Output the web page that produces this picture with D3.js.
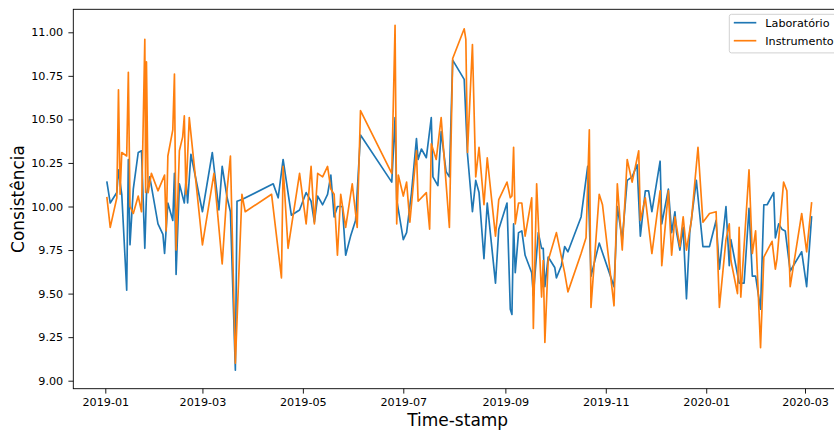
<!DOCTYPE html>
<html>
<head>
<meta charset="utf-8">
<script src="https://cdn.jsdelivr.net/npm/d3@7"></script>
<style>
  body { margin: 0; background: #fff; }
  text { font-family: "DejaVu Sans", sans-serif; fill: #000; }
</style>
</head>
<body>
<svg id="chart" width="834" height="432"></svg>
<script>
// Laboratory measurements
const labDates = [
  "2019-01-02","2019-01-04","2019-01-08","2019-01-09","2019-01-11","2019-01-14","2019-01-15","2019-01-16",
  "2019-01-18","2019-01-21","2019-01-23","2019-01-25","2019-01-26","2019-01-28","2019-02-02","2019-02-05",
  "2019-02-06","2019-02-08","2019-02-11","2019-02-12","2019-02-13","2019-02-15","2019-02-18","2019-02-19",
  "2019-02-20","2019-02-22","2019-03-01","2019-03-07","2019-03-11","2019-03-13","2019-03-16","2019-03-18",
  "2019-03-21","2019-03-22","2019-03-25","2019-04-13","2019-04-16","2019-04-19","2019-04-24","2019-04-29",
  "2019-05-03","2019-05-06","2019-05-08","2019-05-10","2019-05-13","2019-05-16","2019-05-18","2019-05-20",
  "2019-05-22","2019-05-25","2019-05-27","2019-05-30","2019-06-02","2019-06-05","2019-06-24","2019-06-26",
  "2019-06-27","2019-07-01","2019-07-03","2019-07-06","2019-07-09","2019-07-10","2019-07-12","2019-07-15",
  "2019-07-18","2019-07-19","2019-07-22","2019-07-24","2019-07-27","2019-07-29","2019-07-31","2019-08-07",
  "2019-08-09","2019-08-12","2019-08-14","2019-08-16","2019-08-19","2019-08-21","2019-08-26","2019-08-28",
  "2019-09-02","2019-09-04","2019-09-05","2019-09-06","2019-09-07","2019-09-09","2019-09-11","2019-09-13",
  "2019-09-17","2019-09-18","2019-09-21","2019-09-23","2019-09-24","2019-09-25","2019-09-27","2019-10-01",
  "2019-10-02","2019-10-05","2019-10-07","2019-10-09","2019-10-17","2019-10-21","2019-10-23","2019-10-28",
  "2019-11-06","2019-11-07","2019-11-08","2019-11-11","2019-11-14","2019-11-17","2019-11-20","2019-11-22",
  "2019-11-25","2019-11-27","2019-11-29","2019-12-04","2019-12-05","2019-12-09","2019-12-11","2019-12-13",
  "2019-12-14","2019-12-16","2019-12-18","2019-12-20","2019-12-22","2019-12-26","2019-12-30","2020-01-03",
  "2020-01-07","2020-01-09","2020-01-13","2020-01-15","2020-01-16","2020-01-21","2020-01-24","2020-01-27",
  "2020-01-29","2020-01-31","2020-02-03","2020-02-05","2020-02-07","2020-02-11","2020-02-12","2020-02-14",
  "2020-02-16","2020-02-18","2020-02-21","2020-02-28","2020-03-02","2020-03-05"
];
const labValues = [
  10.14,10.02,10.08,10.21,10.07,9.52,10.27,9.78,
  10.10,10.31,10.32,9.76,10.07,10.17,9.90,9.84,
  9.73,10.02,9.92,10.19,9.61,10.13,10.02,10.15,
  10.02,10.30,9.97,10.31,9.98,10.23,10.05,9.97,
  9.06,10.03,10.04,10.13,10.05,10.27,9.95,9.98,
  10.08,10.03,9.91,10.06,10.01,10.07,10.18,9.94,
  10.00,10.00,9.72,9.83,9.92,10.41,10.14,10.51,
  10.04,9.81,9.85,10.08,10.39,10.27,10.33,10.28,
  10.51,10.17,10.12,10.43,10.20,10.17,10.84,10.73,
  10.30,9.97,10.15,10.08,9.70,10.02,9.56,9.87,
  10.02,9.41,9.38,9.90,9.62,9.85,9.86,9.72,
  9.62,9.49,9.85,9.76,9.76,9.54,9.71,9.65,
  9.59,9.66,9.77,9.74,9.94,10.23,9.60,9.79,
  9.54,9.75,10.00,9.81,10.15,10.17,10.24,9.83,
  10.09,10.09,9.97,10.26,9.90,10.10,9.85,9.97,
  9.85,9.75,9.88,9.47,9.85,10.15,9.77,9.77,
  9.92,9.64,10.00,9.66,9.81,9.56,9.56,9.99,
  9.60,9.60,9.41,10.01,10.01,10.08,9.82,9.90,
  9.87,9.86,9.63,9.74,9.54,9.94
];

// Instrument measurements
const instDates = [
  "2019-01-02","2019-01-04","2019-01-08","2019-01-09","2019-01-10","2019-01-11","2019-01-14","2019-01-15",
  "2019-01-16","2019-01-18","2019-01-21","2019-01-23","2019-01-25","2019-01-25T12:00:00Z","2019-01-26","2019-01-27",
  "2019-01-29","2019-02-02","2019-02-06","2019-02-07","2019-02-08","2019-02-11","2019-02-12","2019-02-13",
  "2019-02-15","2019-02-17","2019-02-18","2019-02-19","2019-02-21","2019-03-01","2019-03-08","2019-03-13",
  "2019-03-16","2019-03-18","2019-03-21","2019-03-25","2019-03-27","2019-04-12","2019-04-18","2019-04-19",
  "2019-04-22","2019-04-29","2019-05-03","2019-05-06","2019-05-08","2019-05-10","2019-05-13","2019-05-16",
  "2019-05-18","2019-05-20","2019-05-22","2019-05-24","2019-05-27","2019-05-31","2019-06-03","2019-06-05",
  "2019-06-24","2019-06-26","2019-06-27","2019-06-28","2019-07-01","2019-07-03","2019-07-05","2019-07-09",
  "2019-07-10","2019-07-15","2019-07-17","2019-07-18","2019-07-21","2019-07-24","2019-07-29","2019-07-31",
  "2019-08-07","2019-08-08","2019-08-09","2019-08-12","2019-08-14","2019-08-16","2019-08-19","2019-08-21",
  "2019-08-26","2019-08-28","2019-09-02","2019-09-04","2019-09-05","2019-09-06","2019-09-07","2019-09-09",
  "2019-09-11","2019-09-13","2019-09-17","2019-09-18","2019-09-20","2019-09-23","2019-09-24","2019-09-25",
  "2019-09-27","2019-10-02","2019-10-07","2019-10-09","2019-10-17","2019-10-20","2019-10-22","2019-10-23",
  "2019-10-28","2019-10-30","2019-11-06","2019-11-08","2019-11-11","2019-11-14","2019-11-17","2019-11-21",
  "2019-11-22","2019-11-25","2019-11-29","2019-12-04","2019-12-05","2019-12-09","2019-12-11","2019-12-13",
  "2019-12-16","2019-12-18","2019-12-20","2019-12-23","2019-12-27","2019-12-30","2020-01-03","2020-01-07",
  "2020-01-09","2020-01-13","2020-01-15","2020-01-16","2020-01-20","2020-01-21","2020-01-22","2020-01-27",
  "2020-01-29","2020-01-31","2020-02-03","2020-02-05","2020-02-10","2020-02-12","2020-02-13","2020-02-17",
  "2020-02-19","2020-02-21","2020-02-28","2020-03-02","2020-03-05"
];
const instValues = [
  10.05,9.88,10.05,10.67,10.07,10.31,10.29,10.77,
  10.00,9.96,10.06,9.97,10.96,10.08,10.83,10.08,
  10.19,10.09,10.18,9.86,10.29,10.44,10.76,9.75,
  10.32,10.40,10.52,10.07,10.51,9.78,10.19,9.67,
  10.10,10.29,9.10,10.07,9.97,10.07,9.59,10.23,
  9.76,10.19,9.90,10.23,9.90,10.19,10.17,10.23,
  10.10,10.07,9.72,10.07,9.88,10.13,9.88,10.55,
  10.19,11.04,9.90,10.18,10.06,10.14,9.91,10.32,
  10.03,10.08,9.87,10.36,10.27,10.51,9.88,10.85,
  11.02,10.96,10.31,10.93,10.17,10.34,10.01,10.28,
  9.83,10.04,10.14,10.05,10.06,10.34,9.90,10.02,
  10.02,9.83,10.05,9.30,10.13,9.48,9.69,9.22,
  9.69,9.85,9.62,9.51,9.73,9.82,10.44,9.42,
  10.07,10.01,9.43,10.13,9.75,10.27,10.14,10.32,
  9.92,10.05,9.73,10.09,9.66,10.09,9.72,9.94,
  9.77,9.94,9.75,9.92,10.34,9.91,9.96,9.97,
  9.42,9.81,9.90,9.69,9.50,9.88,9.48,10.21,
  9.73,9.86,9.19,9.71,9.80,9.64,9.70,10.14,
  10.09,9.54,9.96,9.74,10.02
];

const xTickLabels = ["2019-01","2019-03","2019-05","2019-07","2019-09","2019-11","2020-01","2020-03"];
const yTickLabels = ["9.00","9.25","9.50","9.75","10.00","10.25","10.50","10.75","11.00"];
const seriesNames = ["Laboratório", "Instrumento"];
const seriesColors = ["#1f77b4", "#ff7f0e"];
const xTitle = "Time-stamp";
const yTitle = "Consistência";

// Layout of the axes box
const box = { left: 73.3, right: 842, top: 9.3, bottom: 388.7 };

const svg = d3.select("#chart");

const x = d3.scaleUtc()
  .domain([d3.isoParse("2019-01-01"), d3.isoParse("2020-03-01")])
  .range([105.3, 805]);
const y = d3.scaleLinear().domain([9, 11]).range([380.7, 32.3]);

svg.append("defs").append("clipPath").attr("id", "plot-clip")
  .append("rect")
  .attr("x", box.left).attr("y", box.top)
  .attr("width", box.right - box.left).attr("height", box.bottom - box.top);

// Series lines
const series = [
  { name: seriesNames[0], color: seriesColors[0],
    pts: labDates.map((d, i) => [d3.isoParse(d), labValues[i]]) },
  { name: seriesNames[1], color: seriesColors[1],
    pts: instDates.map((d, i) => [d3.isoParse(d), instValues[i]]) }
];

const line = d3.line().x(d => x(d[0])).y(d => y(d[1]));

svg.append("g").attr("clip-path", "url(#plot-clip)")
  .selectAll("path").data(series).join("path")
  .attr("d", s => line(s.pts))
  .attr("fill", "none")
  .attr("stroke", s => s.color)
  .attr("stroke-width", 1.67)
  .attr("stroke-linejoin", "round")
  .attr("stroke-linecap", "square");

// Axes
const xAxis = d3.axisBottom(x)
  .tickValues(xTickLabels.map(t => d3.isoParse(t + "-01")))
  .tickFormat(d3.utcFormat("%Y-%m"))
  .tickSize(4.9).tickPadding(4.5);
const gx = svg.append("g").attr("transform", `translate(0,${box.bottom})`).call(xAxis);
gx.select(".domain").remove();
gx.selectAll(".tick line").attr("stroke", "#000").attr("stroke-width", 0.9);
gx.selectAll(".tick text").attr("font-size", "11.2px").attr("font-family", "DejaVu Sans").attr("fill", "#000");

const yAxis = d3.axisLeft(y)
  .tickValues(yTickLabels.map(Number))
  .tickFormat(d3.format(".2f"))
  .tickSize(4.9).tickPadding(5.2);
const gy = svg.append("g").attr("transform", `translate(${box.left},0)`).call(yAxis);
gy.select(".domain").remove();
gy.selectAll(".tick line").attr("stroke", "#000").attr("stroke-width", 0.9);
gy.selectAll(".tick text").attr("font-size", "11.2px").attr("font-family", "DejaVu Sans").attr("fill", "#000");

// Spines
svg.append("rect")
  .attr("x", box.left).attr("y", box.top)
  .attr("width", box.right - box.left).attr("height", box.bottom - box.top)
  .attr("fill", "none").attr("stroke", "#000").attr("stroke-width", 0.9);

// Axis titles
svg.append("text")
  .attr("x", (box.left + box.right) / 2).attr("y", 426)
  .attr("text-anchor", "middle").attr("font-size", "17px")
  .text(xTitle);
svg.append("text")
  .attr("transform", `translate(23.5,${(box.top + box.bottom) / 2}) rotate(-90)`)
  .attr("text-anchor", "middle").attr("font-size", "17px")
  .text(yTitle);

// Legend
const legend = svg.append("g").attr("transform", "translate(729.3,14.3)");
legend.append("rect")
  .attr("width", 107.2).attr("height", 38.6).attr("rx", 2.2)
  .attr("fill", "#fff").attr("fill-opacity", 0.8)
  .attr("stroke", "#cccccc").attr("stroke-width", 0.9);
series.forEach((s, i) => {
  const yy = 8.4 + i * 18;
  legend.append("line")
    .attr("x1", 4.5).attr("x2", 27).attr("y1", yy).attr("y2", yy)
    .attr("stroke", s.color).attr("stroke-width", 1.67);
  legend.append("text")
    .attr("x", 36).attr("y", yy + 4)
    .attr("font-size", "11.2px")
    .text(s.name);
});
</script>
</body>
</html>
